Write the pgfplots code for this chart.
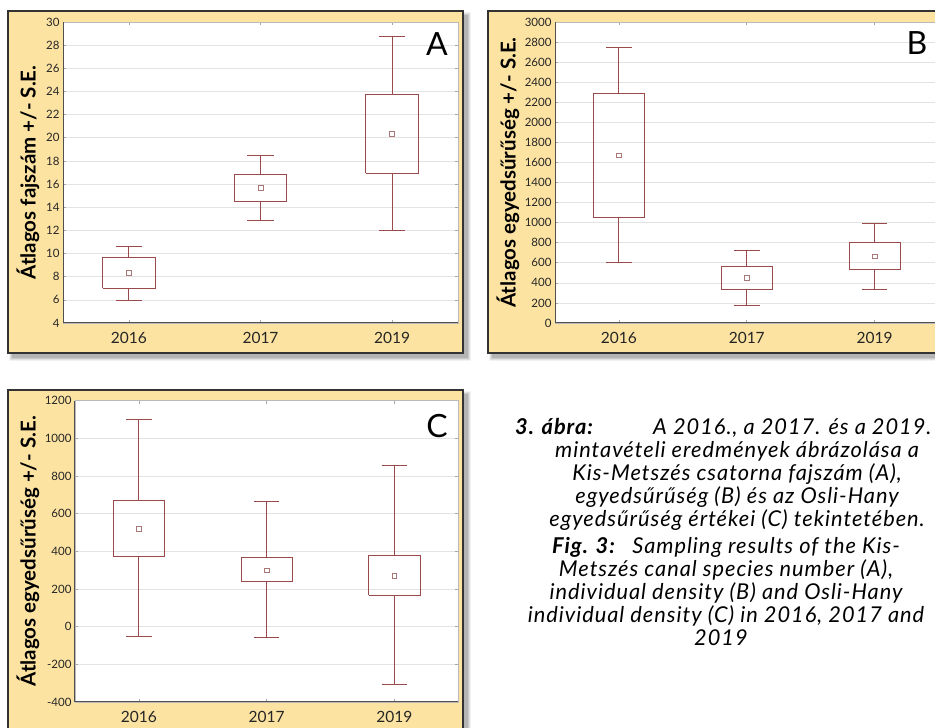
\documentclass[border=0pt]{standalone}
\usepackage{pgfplots}
\pgfplotsset{compat=1.18}
\usepackage{fontspec}
\setmainfont{Lato}
\newfontfamily\capfont[LetterSpace=4.5]{Lato}

\definecolor{panel}{HTML}{FCE3A2}
\definecolor{boxc}{HTML}{9A4A4A}
\definecolor{meanc}{HTML}{A87878}
\definecolor{gridc}{HTML}{E3E3E3}
\definecolor{framec}{HTML}{505050}
\definecolor{borderc}{HTML}{333333}

% soft shadow + cream panel with dark border
\newcommand{\panel}[4]{%
  \fill[black,opacity=0.05] (#1+1,#2-8) rectangle (#3+8,#4-1);
  \fill[black,opacity=0.07] (#1+2,#2-7) rectangle (#3+7,#4-2);
  \fill[black,opacity=0.09] (#1+3,#2-6) rectangle (#3+6,#4-3);
  \fill[black,opacity=0.11] (#1+4,#2-5) rectangle (#3+5,#4-4);
  \filldraw[fill=panel, draw=borderc, line width=1.3pt] (#1,#2) rectangle (#3,#4);
}

\pgfplotsset{
  panelaxis/.style={
    scale only axis, height=301pt,
    xmin=0.5, xmax=3.5, xtick={1,2,3}, xticklabels={2016,2017,2019},
    tick align=inside, major tick length=3pt,
    tick style={color=gray!70, line width=0.6pt},
    axis line style={color=gray!55, line width=0.8pt},
    ymajorgrids, grid style={color=gridc, line width=0.6pt},
    x tick label style={font=\fontsize{15.5}{16}\selectfont, text=black!85, yshift=-6pt},
    y tick label style={font=\fontsize{11.5}{12}\selectfont, text=black!85},
    /pgf/number format/assume math mode=true,
    /pgf/number format/1000 sep={},
    y label style={font=\fontsize{20.5}{22}\selectfont\bfseries, anchor=center},
    axis background/.style={fill=white},
    unbounded coords=jump,
    after end axis/.code={\draw[framec, line width=1pt] (rel axis cs:0,1) -- (rel axis cs:0,0) -- (rel axis cs:1,0);},
  },
  bx/.style={boxc, line width=0.9pt, solid, mark=none},
  meanstyle/.style={only marks, mark=square, mark size=2.4pt, meanc, mark options={line width=0.7pt, fill=white}},
}

\begin{document}
\begin{tikzpicture}[x=1pt,y=1pt]
\useasboundingbox (0,0) rectangle (935,728);
\clip (0,0) rectangle (935,728);
\fill[white] (0,0) rectangle (935,728);

% ---------------- Panel A: species number ----------------
\panel{8}{375}{463}{717}
\begin{axis}[panelaxis, at={(63pt,405pt)}, anchor=south west, width=395pt,
  ymin=4, ymax=30, ytick={4,6,...,30},
  ylabel={Átlagos fajszám +/- S.E.},
  y label style={at={(axis description cs:-0.089,0.5)}}]
% box = mean +/- S.E., whiskers with end caps
\addplot[bx] coordinates {
 (0.8,7.0) (1.2,7.0) (1.2,9.67) (0.8,9.67) (0.8,7.0) (nan,nan)
 (1,9.67) (1,10.62) (nan,nan) (0.9,10.62) (1.1,10.62) (nan,nan)
 (1,7.0) (1,5.98) (nan,nan) (0.9,5.98) (1.1,5.98) (nan,nan)
 (1.8,14.52) (2.2,14.52) (2.2,16.82) (1.8,16.82) (1.8,14.52) (nan,nan)
 (2,16.82) (2,18.5) (nan,nan) (1.9,18.5) (2.1,18.5) (nan,nan)
 (2,14.52) (2,12.85) (nan,nan) (1.9,12.85) (2.1,12.85) (nan,nan)
 (2.8,16.94) (3.2,16.94) (3.2,23.74) (2.8,23.74) (2.8,16.94) (nan,nan)
 (3,23.74) (3,28.73) (nan,nan) (2.9,28.73) (3.1,28.73) (nan,nan)
 (3,16.94) (3,11.98) (nan,nan) (2.9,11.98) (3.1,11.98)
};
\addplot[meanstyle] coordinates {(1,8.32) (2,15.67) (3,20.31)};
\end{axis}
\node[font=\fontsize{32}{32}\selectfont] at (437,684) {A};

% ---------------- Panel B: individual density ----------------
\panel{488}{375}{943}{717}
\begin{axis}[panelaxis, at={(555pt,405pt)}, anchor=south west, width=383.5pt,
  ymin=0, ymax=3000, ytick={0,200,...,3000},
  ylabel={Átlagos egyedsűrűség +/- S.E.},
  y label style={at={(axis description cs:-0.1226,0.5)}}]
\addplot[bx] coordinates {
 (0.8,1054) (1.2,1054) (1.2,2291) (0.8,2291) (0.8,1054) (nan,nan)
 (1,2291) (1,2744) (nan,nan) (0.9,2744) (1.1,2744) (nan,nan)
 (1,1054) (1,602) (nan,nan) (0.9,602) (1.1,602) (nan,nan)
 (1.8,339) (2.2,339) (2.2,562) (1.8,562) (1.8,339) (nan,nan)
 (2,562) (2,728) (nan,nan) (1.9,728) (2.1,728) (nan,nan)
 (2,339) (2,172) (nan,nan) (1.9,172) (2.1,172) (nan,nan)
 (2.8,532) (3.2,532) (3.2,798) (2.8,798) (2.8,532) (nan,nan)
 (3,798) (3,997) (nan,nan) (2.9,997) (3.1,997) (nan,nan)
 (3,532) (3,332) (nan,nan) (2.9,332) (3.1,332)
};
\addplot[meanstyle] coordinates {(1,1670) (2,449) (3,665)};
\end{axis}
\node[font=\fontsize{32}{32}\selectfont] at (917,685) {B};

% ---------------- Panel C: Osli-Hany individual density ----------------
\panel{8}{-20}{463}{338}
\begin{axis}[panelaxis, at={(75pt,26pt)}, anchor=south west, width=383.3pt, height=301.3pt,
  ymin=-400, ymax=1200, ytick={-400,-200,...,1200},
  ylabel={Átlagos egyedsűrűség +/- S.E.},
  y label style={at={(axis description cs:-0.1226,0.5)}}]
\addplot[bx] coordinates {
 (0.8,375) (1.2,375) (1.2,671) (0.8,671) (0.8,375) (nan,nan)
 (1,671) (1,1099) (nan,nan) (0.9,1099) (1.1,1099) (nan,nan)
 (1,375) (1,-53) (nan,nan) (0.9,-53) (1.1,-53) (nan,nan)
 (1.8,239) (2.2,239) (2.2,368) (1.8,368) (1.8,239) (nan,nan)
 (2,368) (2,664) (nan,nan) (1.9,664) (2.1,664) (nan,nan)
 (2,239) (2,-57) (nan,nan) (1.9,-57) (2.1,-57) (nan,nan)
 (2.8,168) (3.2,168) (3.2,379) (2.8,379) (2.8,168) (nan,nan)
 (3,379) (3,855) (nan,nan) (2.9,855) (3.1,855) (nan,nan)
 (3,168) (3,-308) (nan,nan) (2.9,-308) (3.1,-308)
};
\addplot[meanstyle] coordinates {(1,520) (2,299) (3,271)};
\end{axis}
\node[font=\fontsize{32}{32}\selectfont] at (437,302) {C};

% ---------------- Caption ----------------
\begin{scope}[every node/.style={font=\capfont\fontsize{21.8}{23}\selectfont\itshape, inner sep=0pt}]
\node[anchor=base west] at (515,293) {\bfseries 3. ábra:};
\node[anchor=base west] at (653,293) {A 2016., a 2017. és a 2019. évi};
\node[anchor=base] at (737,270) {mintavételi eredmények ábrázolása a};
\node[anchor=base] at (737,247) {Kis-Metszés csatorna fajszám (A),};
\node[anchor=base] at (737,224) {egyedsűrűség (B) és az Osli-Hany};
\node[anchor=base] at (737,201) {egyedsűrűség értékei (C) tekintetében.};
\node[anchor=base] at (726,174) {{\bfseries Fig. 3:}\hspace{0.8em}Sampling results of the Kis-};
\node[anchor=base] at (726,151) {Metszés canal species number (A),};
\node[anchor=base] at (726,128) {individual density (B) and Osli-Hany};
\node[anchor=base] at (726,105) {individual density (C) in 2016, 2017 and};
\node[anchor=base] at (721,82) {2019};
\end{scope}
\end{tikzpicture}
\end{document}
